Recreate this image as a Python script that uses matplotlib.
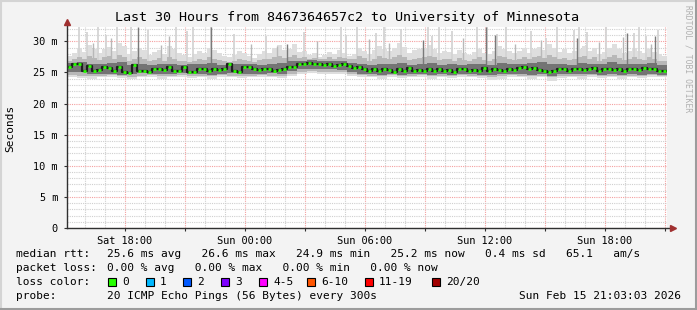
import matplotlib.pyplot as plt
import matplotlib.patches as mpatches
from matplotlib.ticker import MultipleLocator, FuncFormatter
import numpy as np

W, H = 697, 310

# time axis: hours since Sat 00:00
t_start, t_end = 15.12, 45.12

# median rtt (ms), one value per 15 min
rtt_median = [25.9, 26.4, 26.3, 25.2, 26.0, 25.2, 25.4, 25.8, 25.7, 25.2,
              25.9, 25.0, 24.9, 26.2, 25.2, 25.3, 25.1, 25.5, 25.6, 25.4,
              25.8, 25.3, 25.2, 25.8, 25.1, 25.0, 25.5, 25.6, 25.3, 25.5,
              25.4, 25.6, 26.4, 25.2, 25.1, 25.9, 25.8, 25.5, 25.4, 25.6,
              25.5, 25.3, 25.4, 25.5, 25.9, 25.8, 26.3, 26.4, 26.5, 26.3,
              26.4, 26.2, 26.3, 26.1, 26.2, 26.3, 26.0, 25.7, 25.8, 25.6,
              25.3, 25.5, 25.2, 25.6, 25.4, 25.1, 25.5, 25.3, 25.7, 25.2,
              25.4, 25.3, 25.6, 25.2, 25.5, 25.3, 25.4, 25.1, 25.5, 25.6,
              25.3, 25.4, 25.2, 25.7, 25.3, 25.5, 25.4, 25.2, 25.6, 25.4,
              25.7, 25.8, 25.6, 25.7, 25.4, 25.2, 25.1, 25.2, 25.5, 25.6,
              25.3, 25.5, 25.6, 25.4, 25.5, 25.7, 25.3, 25.5, 25.6, 25.4,
              25.5, 25.3, 25.6, 25.5, 25.4, 25.7, 25.5, 25.6, 25.3, 25.2]

# upper smoke envelopes (ms), one value per 15 min
smoke_max = [27.6, 28.2, 28.9, 28.3, 29.4, 28.8, 28.1, 28.7, 29.1, 28.4,
             29.8, 29.2, 28.0, 28.5, 29.0, 28.6, 27.8, 28.3, 28.6, 28.0,
             29.3, 28.7, 28.2, 27.8, 27.5, 27.9, 28.4, 28.1, 29.0, 28.6,
             28.2, 27.7, 27.4, 27.8, 28.5, 28.1, 27.6, 27.3, 28.0, 28.4,
             28.2, 28.9, 29.4, 28.6, 28.8, 29.6, 28.3, 28.5, 27.8, 28.1,
             27.5, 27.8, 28.3, 27.9, 28.6, 28.2, 27.7, 28.0, 28.9, 28.4,
             28.0, 28.6, 29.3, 28.7, 28.4, 28.9, 29.7, 29.1, 28.2, 28.6,
             28.7, 29.0, 29.4, 28.8, 28.1, 28.5, 28.3, 28.0, 28.6, 28.2,
             27.8, 28.3, 28.7, 28.1, 27.9, 28.4, 29.2, 28.8, 28.5, 28.1,
             28.4, 28.9, 28.2, 28.7, 29.1, 28.6, 29.5, 29.0, 28.3, 28.7,
             28.1, 28.5, 28.8, 29.3, 28.4, 28.9, 28.0, 28.3, 29.0, 29.6,
             28.7, 28.2, 28.5, 28.9, 28.4, 28.1, 28.8, 28.3, 27.9, 27.6]
smoke_mid_hi = [26.9, 27.2, 27.5, 27.1, 27.6, 27.3, 27.0, 27.4, 27.7, 27.2,
                27.8, 27.4, 26.9, 27.1, 27.5, 27.2, 26.8, 27.0, 27.3, 26.9,
                27.5, 27.2, 26.9, 26.8, 26.7, 26.9, 27.2, 27.0, 27.4, 27.1,
                27.0, 26.8, 26.7, 26.9, 27.2, 27.0, 26.8, 26.7, 27.0, 27.2,
                27.1, 27.4, 27.7, 27.3, 27.4, 27.8, 27.3, 27.4, 27.2, 27.3,
                27.1, 27.2, 27.4, 27.2, 27.5, 27.3, 27.1, 27.2, 27.6, 27.3,
                26.9, 27.2, 27.6, 27.3, 27.1, 27.4, 27.8, 27.5, 27.0, 27.2,
                27.3, 27.5, 27.7, 27.4, 27.0, 27.2, 27.1, 26.9, 27.3, 27.0,
                26.8, 27.1, 27.4, 27.0, 26.9, 27.2, 27.6, 27.4, 27.2, 27.0,
                27.2, 27.5, 27.1, 27.4, 27.6, 27.3, 27.8, 27.5, 27.1, 27.3,
                27.0, 27.2, 27.4, 27.7, 27.2, 27.5, 26.9, 27.1, 27.5, 27.8,
                27.3, 27.0, 27.2, 27.5, 27.2, 27.0, 27.4, 27.1, 26.9, 26.8]

# lower smoke envelopes and dark core (ms), one value per 30 min
smoke_min = [24.3, 24.1, 24.0, 24.2, 24.3, 24.1, 23.9, 24.2, 24.3, 24.0,
             24.2, 24.3, 24.1, 24.2, 24.0, 24.3, 24.2, 24.1, 24.2, 24.3,
             24.2, 24.1, 24.5, 24.8, 24.9, 24.8, 24.8, 24.7, 24.5, 24.3,
             24.2, 24.0, 24.3, 24.1, 24.2, 24.3, 24.0, 24.2, 24.1, 24.3,
             24.2, 24.1, 23.8, 24.0, 24.3, 24.2, 24.0, 24.2, 23.7, 24.1,
             24.2, 24.0, 24.3, 24.1, 24.2, 24.0, 24.2, 24.1, 24.3, 24.2]
smoke_mid_lo = [24.6, 24.5, 24.4, 24.5, 24.6, 24.4, 24.3, 24.5, 24.6, 24.4,
                24.5, 24.6, 24.4, 24.5, 24.4, 24.6, 24.5, 24.4, 24.5, 24.6,
                24.5, 24.4, 24.8, 25.1, 25.2, 25.1, 25.1, 25.0, 24.8, 24.6,
                24.5, 24.4, 24.6, 24.4, 24.5, 24.6, 24.4, 24.5, 24.4, 24.6,
                24.5, 24.4, 24.2, 24.4, 24.6, 24.5, 24.4, 24.5, 24.2, 24.4,
                24.5, 24.4, 24.6, 24.4, 24.5, 24.4, 24.5, 24.4, 24.6, 24.5]
smoke_dark_lo = [25.1, 25.0, 24.8, 24.7, 24.8, 24.6, 24.7, 24.9, 24.8, 24.7,
                 24.8, 24.9, 24.7, 24.8, 24.6, 24.8, 24.9, 24.8, 24.7, 24.8,
                 24.9, 24.8, 25.2, 25.5, 25.6, 25.5, 25.5, 25.4, 25.1, 24.8,
                 24.7, 24.6, 24.8, 24.6, 24.7, 24.8, 24.6, 24.7, 24.6, 24.8,
                 24.7, 24.6, 24.6, 24.7, 24.8, 24.7, 24.6, 24.7, 24.5, 24.7,
                 24.8, 24.7, 24.8, 24.6, 24.7, 24.6, 24.7, 24.6, 24.8, 24.6]
smoke_dark_hi = [26.5, 26.6, 26.4, 26.3, 26.5, 26.7, 26.2, 26.4, 26.2, 26.3,
                 26.4, 26.2, 26.3, 26.4, 26.5, 26.2, 26.3, 26.4, 26.3, 26.2,
                 26.4, 26.5, 26.8, 26.9, 27.0, 26.9, 26.9, 26.8, 26.5, 26.4,
                 26.2, 26.4, 26.3, 26.5, 26.2, 26.4, 26.5, 26.2, 26.3, 26.2,
                 26.3, 26.4, 26.2, 26.5, 26.3, 26.4, 26.5, 26.6, 26.3, 26.4,
                 26.2, 26.5, 26.4, 26.3, 26.6, 26.3, 26.4, 26.3, 26.5, 26.2]

# isolated outlier pings
spike_hours = [15.70, 16.10, 16.65, 17.05, 17.60, 18.30, 19.15, 20.55, 21.10, 21.40,
               22.30, 23.45, 25.05, 26.95, 28.80, 29.05, 29.60, 30.55, 30.95, 31.80,
               33.15, 33.35, 33.70, 34.35, 35.60, 36.10, 36.60, 37.05, 38.30, 39.05,
               39.60, 40.45, 40.70, 41.10, 42.05, 43.45, 43.70, 44.05, 44.65]
spike_tops = [32.3, 31.5, 32.3, 31.0, 32.3, 32.3, 31.8, 32.3, 31.6, 32.3,
              32.3, 31.2, 30.8, 31.5, 32.3, 31.0, 32.3, 31.4, 32.3, 31.9,
              32.3, 30.9, 32.3, 31.6, 32.3, 32.3, 31.2, 32.3, 31.7, 30.6,
              32.3, 31.8, 32.3, 31.5, 32.3, 31.3, 32.3, 30.9, 31.8]
mid_spike_hours = [16.4, 17.3, 19.8, 20.2, 24.3, 25.6, 27.6, 30.2, 31.2, 34.9, 37.5, 38.8, 41.7, 42.9, 44.3]
mid_spike_tops = [29.8, 30.5, 29.4, 30.8, 29.6, 29.2, 30.1, 30.4, 29.7, 30.6, 29.5, 30.2, 29.9, 30.7, 29.6]
dark_spike_hours = [18.65, 22.30, 26.1, 32.9, 36.05, 36.5, 40.6, 43.1, 44.5]
dark_spike_tops = [32.3, 32.3, 29.5, 30.2, 32.3, 31.0, 30.5, 31.4, 30.8]

tick_hours = [18, 24, 30, 36, 42]
tick_names = ['Sat 18:00', 'Sun 00:00', 'Sun 06:00', 'Sun 12:00', 'Sun 18:00']

loss_labels = ['0', '1', '2', '3', '4-5', '6-10', '11-19', '20/20']
loss_colors = ['#26ff00', '#00b8ff', '#0059ff', '#7e00ff', '#ff00ff', '#ff5500', '#ff0000', '#a10000']
loss_box_x = [108, 146, 183, 221, 259, 307, 365, 432]

MONO = 'DejaVu Sans Mono'


def fx(x):
    return x / W


def fy(y):
    return 1 - y / H


def step_band(ax, values_lo, values_hi, color, z):
    n = len(values_hi)
    edges = np.linspace(t_start, t_end, n + 1)
    if np.ndim(values_lo) == 0:
        lo = values_lo
    else:
        lo = list(values_lo) + [values_lo[-1]]
    hi = list(values_hi) + [values_hi[-1]]
    ax.fill_between(edges, lo, hi, step='post', color=color, lw=0, zorder=z)


def draw(fig, ax):
    ax.set_xlim(t_start, t_end)
    ax.set_ylim(0, 32.3)
    ax.set_facecolor('white')
    for s in ax.spines.values():
        s.set_visible(False)

    # grid
    ax.xaxis.set_major_locator(MultipleLocator(3))
    ax.xaxis.set_minor_locator(MultipleLocator(1))
    ax.yaxis.set_major_locator(MultipleLocator(5))
    ax.yaxis.set_minor_locator(MultipleLocator(1))
    ax.grid(which='minor', color='#cfcfcf', lw=0.8, ls=(0, (1, 1)))
    ax.grid(which='major', color='#f4a0a0', lw=0.8, ls=(0, (1, 1)))
    ax.set_axisbelow(True)

    # smoke: light outer envelope
    step_band(ax, 26.0, smoke_max, '#dedede', 2)
    step_band(ax, smoke_min, [26.0] * len(smoke_min), '#dedede', 2)
    ax.vlines(spike_hours, 26, spike_tops, color='#d4d4d4', lw=1.3, zorder=2)
    # middle envelope
    ax.vlines(mid_spike_hours, 26, mid_spike_tops, color='#b8b8b8', lw=1.0, zorder=3)
    step_band(ax, 26.0, smoke_mid_hi, '#b8b8b8', 3)
    step_band(ax, smoke_mid_lo, [26.0] * len(smoke_mid_lo), '#b8b8b8', 3)
    # dark core
    ax.vlines(dark_spike_hours, 26, dark_spike_tops, color='#7a7a7a', lw=1.0, zorder=4)
    step_band(ax, smoke_dark_lo, smoke_dark_hi, '#747474', 4)

    # median line, coloured by loss (all 0 -> green)
    n = len(rtt_median)
    edges = np.linspace(t_start, t_end, n + 1)
    med = rtt_median + [rtt_median[-1]]
    ax.step(edges, med, where='post', color='#1e1e1e', lw=1.6, zorder=5)
    ax.hlines(rtt_median, edges[:-1] + 0.04, edges[1:] - 0.04, color='#26ff00', lw=2.0, zorder=6)

    # axes and arrows
    ax.plot([0, 1.008], [0, 0], transform=ax.transAxes, color='#303030', lw=1.0, clip_on=False, zorder=7)
    ax.plot([0, 0], [0, 1.02], transform=ax.transAxes, color='#303030', lw=1.0, clip_on=False, zorder=7)
    ax.plot([1.01], [0], transform=ax.transAxes, marker='>', ms=4, color='#a03030', clip_on=False, zorder=8)
    ax.plot([0], [1.025], transform=ax.transAxes, marker='^', ms=4, color='#a03030', clip_on=False, zorder=8)

    # ticks
    ax.tick_params(which='major', length=2.5, width=0.8, color='#303030', labelsize=7.4, pad=3)
    ax.tick_params(which='minor', length=0)
    ax.tick_params(axis='y', pad=4)
    ax.xaxis.set_major_formatter(FuncFormatter(
        lambda v, p: tick_names[tick_hours.index(int(round(v)))] if int(round(v)) in tick_hours else ''))
    ax.yaxis.set_major_formatter(FuncFormatter(lambda v, p: '0' if v == 0 else '%d m' % v))
    for lab in ax.get_xticklabels() + ax.get_yticklabels():
        lab.set_family(MONO)

    # texts
    fig.text(fx(347), fy(18), 'Last 30 Hours from 8467364657c2 to University of Minnesota',
             ha='center', va='center', family=MONO, fontsize=9.6)
    fig.text(fx(10), fy(128), 'Seconds', rotation=90, ha='center', va='center',
             family=MONO, fontsize=8)
    fig.text(fx(688), fy(5), 'RRDTOOL / TOBI OETIKER', rotation=-90, ha='center', va='top',
             family=MONO, fontsize=5.8, color='#b0b0b0')

    rows = [
        (254, 'median rtt:', '25.6 ms avg   26.6 ms max   24.9 ms min   25.2 ms now   0.4 ms sd   65.1   am/s'),
        (268, 'packet loss:', '0.00 % avg   0.00 % max   0.00 % min   0.00 % now'),
        (282, 'loss color:', ''),
        (296, 'probe:', '20 ICMP Echo Pings (56 Bytes) every 300s'),
    ]
    for y, label, body in rows:
        fig.text(fx(16), fy(y), label, ha='left', va='center', family=MONO, fontsize=8)
        if body:
            fig.text(fx(107), fy(y), body, ha='left', va='center', family=MONO, fontsize=8)
    fig.text(fx(681), fy(296), 'Sun Feb 15 21:03:03 2026', ha='right', va='center',
             family=MONO, fontsize=8)

    for bx, lab, col in zip(loss_box_x, loss_labels, loss_colors):
        fig.patches.append(mpatches.Rectangle((fx(bx), fy(286)), 8 / W, 8 / H, transform=fig.transFigure,
                                              facecolor=col, edgecolor='black', lw=0.8))
        fig.text(fx(bx + 14), fy(282), lab, ha='left', va='center', family=MONO, fontsize=8)

    # frame
    fig.add_artist(plt.Line2D([0, 1], [fy(1), fy(1)], color='#d4d4d4', lw=1.5))
    fig.add_artist(plt.Line2D([fx(1), fx(1)], [0, 1], color='#d4d4d4', lw=1.5))
    fig.add_artist(plt.Line2D([0, 1], [fy(309), fy(309)], color='#9c9c9c', lw=1.5))
    fig.add_artist(plt.Line2D([fx(696), fx(696)], [0, 1], color='#9c9c9c', lw=1.5))


def main():
    fig = plt.figure(figsize=(W / 100, H / 100), dpi=100, facecolor='#f3f3f3')
    ax = fig.add_axes([fx(67), fy(228), (667 - 67) / W, (228 - 27) / H])
    draw(fig, ax)
    fig.savefig('out.png', dpi=100, facecolor=fig.get_facecolor())


if __name__ == '__main__':
    main()
